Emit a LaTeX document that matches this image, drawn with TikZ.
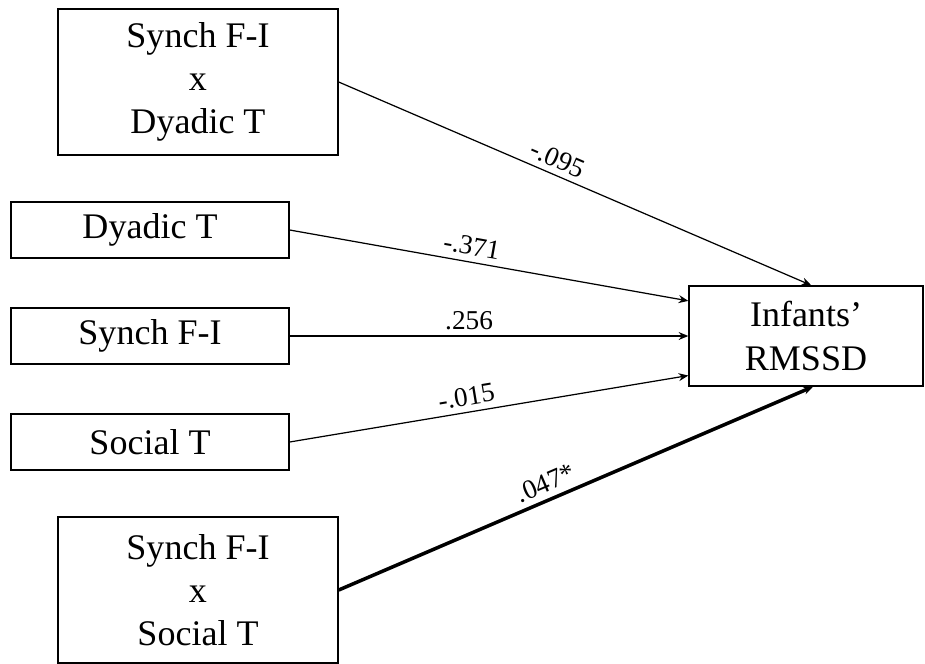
\documentclass[tikz,border=0pt]{standalone}
\usepackage{fontspec}
\setmainfont{Liberation Serif}
\usetikzlibrary{arrows.meta}
\begin{document}
\begin{tikzpicture}[x=0.02cm,y=-0.02cm,
    var/.style={draw,line width=0.8pt,align=center,inner sep=0pt,font=\fontsize{20.5}{24.5}\selectfont},
    wide/.style={var,minimum width=5.6cm,minimum height=2.92cm},
    narrow/.style={var,minimum width=5.56cm,minimum height=1.12cm},
    coef/.style={sloped,above,pos=0.45,font=\fontsize{15.5}{18}\selectfont},
    eff/.style={-{Stealth[length=5.5pt,width=4.5pt]},line width=0.7pt},
    sig/.style={eff,line width=2pt}]
  \useasboundingbox (0,0) rectangle (925,663);
  \node[wide] (sd) at (198,82) {Synch F-I\\x\\Dyadic T};
  \node[narrow] (dy) at (150,230) {Dyadic T};
  \node[narrow] (sy) at (150,336) {Synch F-I};
  \node[narrow] (so) at (150,442) {Social T};
  \node[wide] (ss) at (198,590) {Synch F-I\\x\\Social T};
  \node[var,minimum width=4.68cm,minimum height=2cm] (rmssd) at (806,336) {Infants'\\RMSSD};
  \draw[eff] (sd.east) -- node[coef] {-.095} ([xshift=3pt]rmssd.north);
  \draw[eff] (dy.east) -- node[coef] {-.371} ([yshift=20pt]rmssd.west);
  \draw[eff] (sy.east) -- node[coef] {.256} (rmssd.west);
  \draw[eff] (so.east) -- node[coef] {-.015} ([yshift=-22.5pt]rmssd.west);
  \draw[sig] (ss.east) -- node[coef] {.047*} ([xshift=4pt]rmssd.south);
\end{tikzpicture}
\end{document}
